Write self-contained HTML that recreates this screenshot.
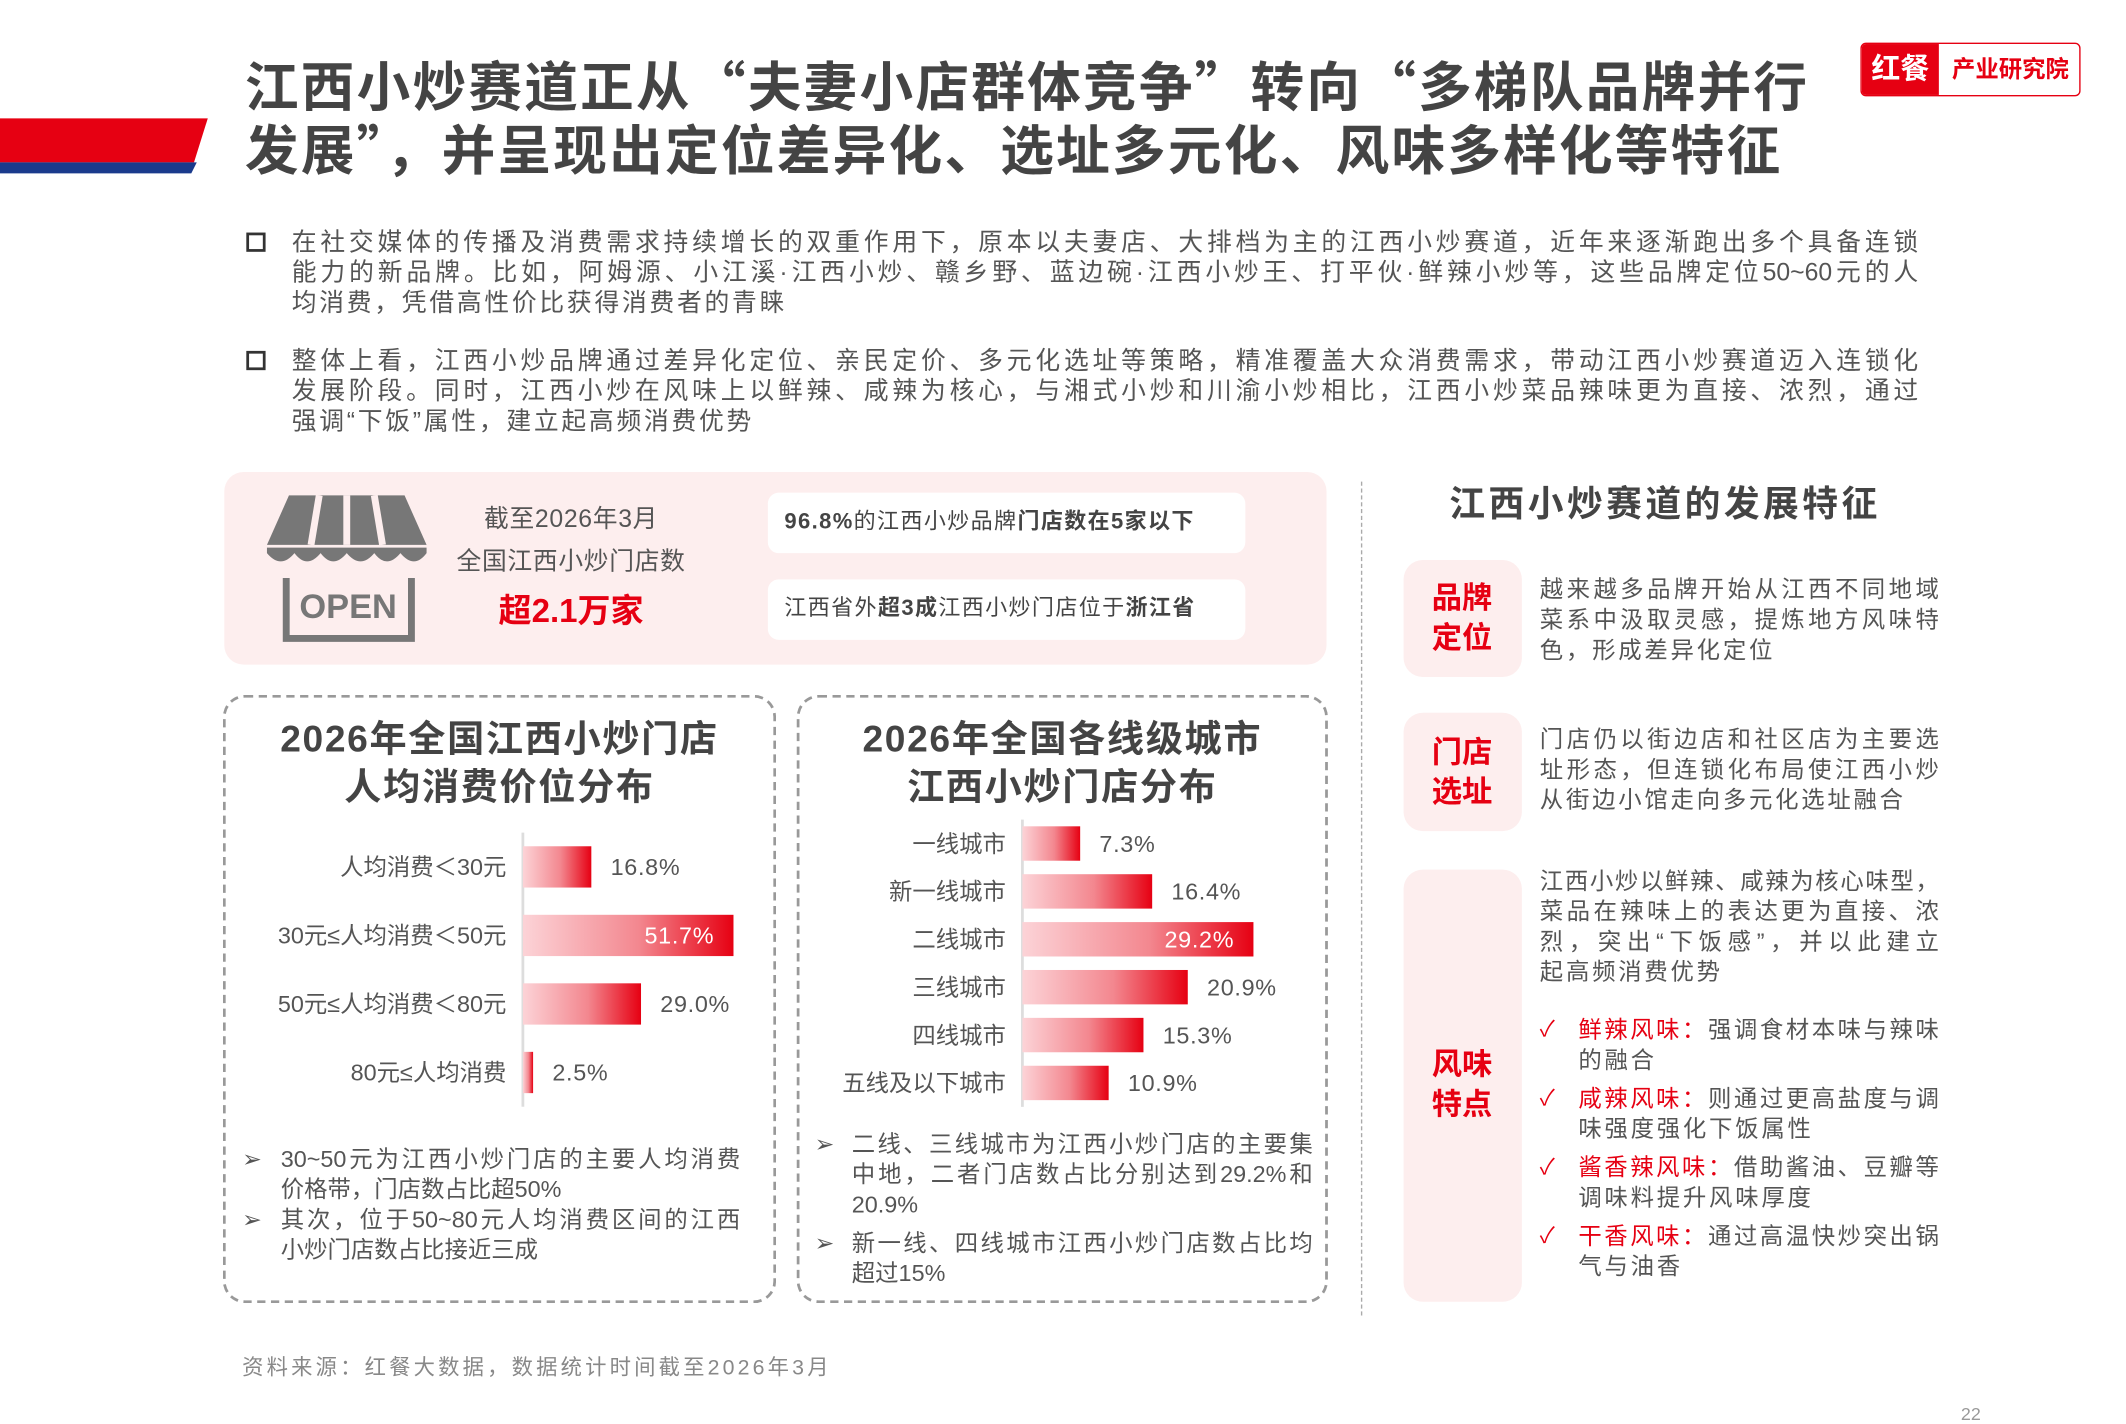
<!DOCTYPE html>
<html><head><meta charset="utf-8">
<style>
html,body{margin:0;padding:0;background:#fff;}
body{width:2126px;height:1418px;overflow:hidden;position:relative;}
#stage{position:absolute;left:0;top:0;width:1545px;height:1030px;transform:scale(1.37605);transform-origin:0 0;font-family:"Liberation Sans","Noto Sans CJK SC",sans-serif;color:#555;}
.a{position:absolute;}
.title{left:178px;top:38px;font-size:39px;font-weight:bold;color:#444;line-height:46px;letter-spacing:1.6px;white-space:nowrap;font-family:"Noto Sans CJK SC",sans-serif;}
.para{left:212px;width:1182px;font-size:18px;line-height:22px;color:#555;}
.j{display:block;text-align:justify;text-align-last:justify;}
.l{display:block;}
.sq{width:10px;height:10px;border:2px solid #333;}
.pill{background:#fff;border-radius:8px;font-size:16px;color:#444;line-height:44px;padding-left:12px;box-sizing:border-box;letter-spacing:1px;}
.dbox{border:2px dashed #999;border-radius:16px;box-sizing:border-box;}
.ctitle{font-size:27px;font-weight:bold;color:#444;line-height:35px;text-align:center;letter-spacing:1.2px;}
.note{font-size:17px;line-height:22px;color:#555;}
.lab{background:#fdeeee;border-radius:14px;}
.labt{color:#e60012;font-weight:bold;font-size:22px;line-height:29px;text-align:center;width:85px;}
.rt{left:1119px;width:290px;font-size:17px;line-height:22px;color:#555;}
.red{color:#e60012;}
.ck{color:#e60012;font-size:16px;}
</style></head><body>
<div id="stage">
  <svg class="a" style="left:0;top:84px" width="155" height="44">
    <polygon points="0,2 151,2 141,34 0,34" fill="#e60012"/>
    <polygon points="0,34 143,34 139,42 0,42" fill="#1a3a8c"/>
  </svg>
  <div class="a title">江西小炒赛道正从“夫妻小店群体竞争”转向“多梯队品牌并行<br>发展”，并呈现出定位差异化、选址多元化、风味多样化等特征</div>
  <div class="a" style="left:1352px;top:31px;width:160px;height:39px;border:1.5px solid #e60012;border-radius:4px;box-sizing:border-box;overflow:hidden;">
    <div class="a" style="left:0;top:0;width:56px;height:37px;background:#e60012;color:#fff;font-weight:bold;font-size:21px;line-height:37px;text-align:center;">红餐</div>
    <div class="a" style="left:58px;top:0;width:100px;height:37px;color:#e60012;font-weight:bold;font-size:17px;line-height:37px;text-align:center;">产业研究院</div>
  </div>

  <div class="a sq" style="left:179px;top:169px"></div>
  <div class="a para" style="top:165px">
    <span class="j">在社交媒体的传播及消费需求持续增长的双重作用下，原本以夫妻店、大排档为主的江西小炒赛道，近年来逐渐跑出多个具备连锁</span>
    <span class="j">能力的新品牌。比如，阿姆源、小江溪·江西小炒、赣乡野、蓝边碗·江西小炒王、打平伙·鲜辣小炒等，这些品牌定位50~60元的人</span>
    <span class="l" style="letter-spacing:2px">均消费，凭借高性价比获得消费者的青睐</span>
  </div>
  <div class="a sq" style="left:179px;top:255px"></div>
  <div class="a para" style="top:251px">
    <span class="j">整体上看，江西小炒品牌通过差异化定位、亲民定价、多元化选址等策略，精准覆盖大众消费需求，带动江西小炒赛道迈入连锁化</span>
    <span class="j">发展阶段。同时，江西小炒在风味上以鲜辣、咸辣为核心，与湘式小炒和川渝小炒相比，江西小炒菜品辣味更为直接、浓烈，通过</span>
    <span class="l" style="letter-spacing:2px">强调“下饭”属性，建立起高频消费优势</span>
  </div>

  <div class="a" style="left:163px;top:343px;width:801px;height:140px;background:#fdeeee;border-radius:14px;"></div>
  <svg class="a" style="left:192px;top:358px" width="122" height="110">
    <path d="M18,2 H102 L118,38 H2 Z" fill="#777"/>
    <g stroke="#fdeeee" stroke-width="5"><line x1="40" y1="2" x2="34" y2="38"/><line x1="60" y1="2" x2="60" y2="38"/><line x1="80" y1="2" x2="86" y2="38"/></g>
    <path d="M2,40 H118 V44 Q109,56 99,44 Q89,56 80,44 Q70,56 60,44 Q50,56 41,44 Q31,56 22,44 Q12,56 2,44 Z" fill="#777"/>
    <path d="M16,62 V106 H107 V62" fill="none" stroke="#777" stroke-width="5"/>
    <text x="61" y="91" text-anchor="middle" font-size="25" font-weight="bold" fill="#777" font-family="Liberation Sans, sans-serif">OPEN</text>
  </svg>
  <div class="a" style="left:315px;top:362px;width:200px;text-align:center;font-size:18px;line-height:31px;color:#555;letter-spacing:0.5px;">截至2026年3月<br>全国江西小炒门店数</div>
  <div class="a" style="left:315px;top:424px;width:200px;text-align:center;font-size:24px;font-weight:bold;color:#e60012;">超2.1万家</div>
  <div class="a pill" style="left:558px;top:358px;width:347px;height:44px;"><b>96.8%</b>的江西小炒品牌<b>门店数在5家以下</b></div>
  <div class="a pill" style="left:558px;top:421px;width:347px;height:44px;">江西省外<b>超3成</b>江西小炒门店位于<b>浙江省</b></div>

  <div class="a dbox" style="left:162px;top:505px;width:402px;height:442px;"></div>
  <div class="a ctitle" style="left:163px;top:520px;width:400px;">2026年全国江西小炒门店<br>人均消费价位分布</div>
  <svg id="chart1" class="a" style="left:163px;top:595px" width="400" height="210"></svg>
  <div class="a note" style="left:176px;top:832px;width:362px;">
    <div style="position:relative;padding-left:28px;"><span style="position:absolute;left:0">➢</span><span class="j">30~50元为江西小炒门店的主要人均消费</span><span class="l">价格带，门店数占比超50%</span></div>
    <div style="position:relative;padding-left:28px;"><span style="position:absolute;left:0">➢</span><span class="j">其次，位于50~80元人均消费区间的江西</span><span class="l">小炒门店数占比接近三成</span></div>
  </div>

  <div class="a dbox" style="left:579px;top:505px;width:386px;height:442px;"></div>
  <div class="a ctitle" style="left:580px;top:520px;width:384px;">2026年全国各线级城市<br>江西小炒门店分布</div>
  <svg id="chart2" class="a" style="left:580px;top:595px" width="384" height="210"></svg>
  <div class="a note" style="left:592px;top:821px;width:362px;">
    <div style="position:relative;padding-left:27px;margin-bottom:6px;"><span style="position:absolute;left:0">➢</span><span class="j">二线、三线城市为江西小炒门店的主要集</span><span class="j">中地，二者门店数占比分别达到29.2%和</span><span class="l">20.9%</span></div>
    <div style="position:relative;padding-left:27px;"><span style="position:absolute;left:0">➢</span><span class="j">新一线、四线城市江西小炒门店数占比均</span><span class="l">超过15%</span></div>
  </div>

  <div class="a" style="left:989px;top:350px;height:606px;border-left:1.5px dashed #aaa;"></div>
  <div class="a" style="left:1020px;top:346px;width:380px;text-align:center;font-size:26px;font-weight:bold;color:#444;letter-spacing:2.5px;">江西小炒赛道的发展特征</div>

  <div class="a lab" style="left:1020px;top:407px;width:86px;height:85px;"><div class="a labt" style="left:0;top:13px">品牌<br>定位</div></div>
  <div class="a rt" style="top:418px"><span class="j">越来越多品牌开始从江西不同地域</span><span class="j">菜系中汲取灵感，提炼地方风味特</span><span class="l" style="letter-spacing:2px">色，形成差异化定位</span></div>
  <div class="a lab" style="left:1020px;top:518px;width:86px;height:86px;"><div class="a labt" style="left:0;top:14px">门店<br>选址</div></div>
  <div class="a rt" style="top:527px"><span class="j">门店仍以街边店和社区店为主要选</span><span class="j">址形态，但连锁化布局使江西小炒</span><span class="l" style="letter-spacing:2px">从街边小馆走向多元化选址融合</span></div>
  <div class="a lab" style="left:1020px;top:632px;width:86px;height:314px;"><div class="a labt" style="left:0;top:127px">风味<br>特点</div></div>
  <div class="a rt" style="top:630px"><span class="j">江西小炒以鲜辣、咸辣为核心味型，</span><span class="j">菜品在辣味上的表达更为直接、浓</span><span class="j">烈，突出“下饭感”，并以此建立</span><span class="l" style="letter-spacing:2px">起高频消费优势</span></div>
  <div id="flv" class="a" style="left:1119px;top:738px;width:290px;"></div>

  <div class="a" style="left:176px;top:982px;font-size:15.5px;color:#888;letter-spacing:2.3px;">资料来源：红餐大数据，数据统计时间截至2026年3月</div>
  <div class="a" style="left:1425px;top:1020px;font-size:13px;color:#999;">22</div>
</div>
<script>
const priceCats=["人均消费＜30元","30元≤人均消费＜50元","50元≤人均消费＜80元","80元≤人均消费"];
const priceVals=[16.8,51.7,29.0,2.5];
const cityCats=["一线城市","新一线城市","二线城市","三线城市","四线城市","五线及以下城市"];
const cityVals=[7.3,16.4,29.2,20.9,15.3,10.9];
const flavorNames=["鲜辣风味：","咸辣风味：","酱香辣风味：","干香风味："];
const flavorLine1=["强调食材本味与辣味","则通过更高盐度与调","借助酱油、豆瓣等","通过高温快炒突出锅"];
const flavorLine2=["的融合","味强度强化下饭属性","调味料提升风味厚度","气与油香"];
const NS="http://www.w3.org/2000/svg";
function mk(parent,tag,attrs){const e=document.createElementNS(NS,tag);for(const k in attrs)e.setAttribute(k,attrs[k]);parent.appendChild(e);return e;}
function drawChart(id,cats,vals,o){
  const svg=document.getElementById(id);
  const defs=mk(svg,'defs',{});
  const g=mk(defs,'linearGradient',{id:id+'g',x1:0,x2:1,y1:0,y2:0});
  mk(g,'stop',{offset:'0','stop-color':'#fcd3d7'});
  mk(g,'stop',{offset:'0.55','stop-color':'#f3878f'});
  mk(g,'stop',{offset:'1','stop-color':'#e60012'});
  const x=v=>o.ax+v*o.k;
  const y=i=>o.y0+i*o.step;
  const axis=mk(svg,'line',{x1:o.ax,x2:o.ax,y1:y(0)-o.step/2,y2:y(cats.length-1)+o.step/2,stroke:'#ddd','stroke-width':2});
  
  
  const maxI=vals.indexOf(Math.max(...vals));
  cats.forEach((c,i)=>{
    const cy=y(i);
    const r=mk(svg,'rect',{x:o.ax,y:cy-o.h/2,width:x(vals[i])-o.ax,height:o.h,fill:'url(#'+id+'g)'});
    
    
    const t=mk(svg,'text',{x:o.ax-12,y:cy+6,'text-anchor':'end','font-size':17,fill:'#555'});
    t.textContent=c;
    
    
    const inside=i===maxI;
    const vt=mk(svg,'text',{x:inside?x(vals[i])-14:x(vals[i])+14,y:cy+6,'text-anchor':inside?'end':'start','font-size':17,fill:inside?'#fff':'#555','letter-spacing':0.5});
    vt.textContent=vals[i].toFixed(1)+'%';
    
    
  });
}
drawChart('chart1',priceCats,priceVals,{ax:217,k:2.96,y0:35,step:49.8,h:30});
drawChart('chart2',cityCats,cityVals,{ax:163,k:5.75,y0:18,step:34.8,h:25});
const flv=document.getElementById('flv');
flavorNames.forEach((n,i)=>{
  const d=document.createElement('div');
  
  
  d.style.cssText='position:relative;padding-left:28px;font-size:17px;line-height:22px;color:#555;margin-bottom:6px;';
  d.innerHTML='<span class="ck" style="position:absolute;left:0;top:0">✓</span><span class="j"><span class="red">'+n+'</span>'+flavorLine1[i]+'</span><span class="l" style="letter-spacing:2px">'+flavorLine2[i]+'</span>';
  flv.appendChild(d);
});
</script>
</body></html>
